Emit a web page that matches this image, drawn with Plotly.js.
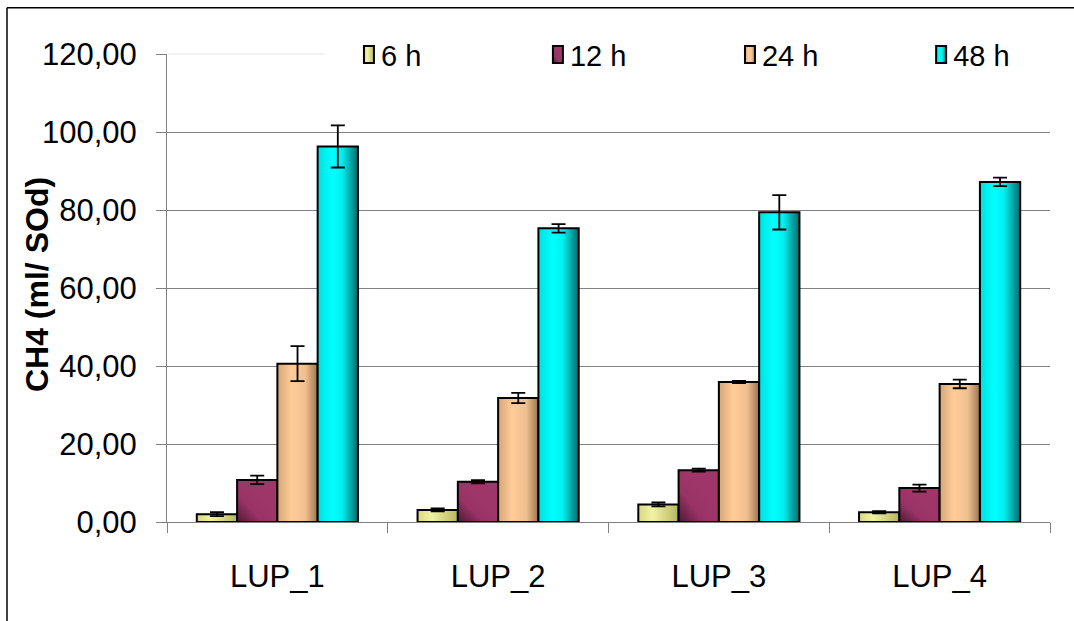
<!DOCTYPE html>
<html>
<head>
<meta charset="utf-8">
<script src="https://cdn.plot.ly/plotly-3.0.1.min.js"></script>
<style>html,body{margin:0;padding:0;background:#fff;}#chart{width:1074px;height:621px;}</style>
</head>
<body>
<div id="chart"></div>
<script>
// Data
const categories = ['LUP_1', 'LUP_2', 'LUP_3', 'LUP_4'];
const seriesNames = ['6 h', '12 h', '24 h', '48 h'];
const h6  = [2.0, 3.1, 4.5, 2.5];
const e6  = [0.5, 0.4, 0.5, 0.3];
const h12 = [10.8, 10.3, 13.3, 8.7];
const e12 = [1.1, 0.4, 0.4, 0.9];
const h24 = [40.6, 31.8, 35.9, 35.4];
const e24 = [4.5, 1.3, 0.3, 1.1];
const h48 = [96.3, 75.3, 79.4, 87.2];
const e48 = [5.4, 1.1, 4.4, 1.1];
const yTicks = [0, 20, 40, 60, 80, 100, 120];

const values = [h6, h12, h24, h48];
const errors = [e6, e12, e24, e48];
const colors = ['#e8e88c', '#993366', '#ffcc99', '#00ffff'];
const legendIds = ['legend', 'legend2', 'legend3', 'legend4'];
const legendX = [0.197, 0.411, 0.6285, 0.845];

const traces = values.map((v, i) => ({
  type: 'bar',
  name: seriesNames[i],
  legend: legendIds[i],
  x: categories,
  y: v,
  marker: {color: colors[i], line: {color: '#000', width: 2}},
  error_y: {type: 'data', array: errors[i], visible: true, color: '#000', thickness: 1.8, width: 7}
}));

const font = 'Liberation Sans, Arial, sans-serif';
const layout = {
  width: 1074, height: 621,
  margin: {l: 167, r: 24, t: 54, b: 99},
  paper_bgcolor: '#fff', plot_bgcolor: '#fff',
  separators: ',.',
  barmode: 'group', bargap: 0.27, bargroupgap: 0,
  showlegend: true,
  xaxis: {type: 'category', showline: true, linecolor: '#808080', linewidth: 1,
    ticks: 'outside', tickson: 'boundaries', ticklen: 10, tickcolor: '#808080',
    tickfont: {family: font, size: 31, color: '#000'}, ticklabelstandoff: 27,
    showgrid: false, zeroline: false, fixedrange: true},
  yaxis: {range: [0, 120], tickvals: yTicks, tickformat: '.2f',
    showline: true, linecolor: '#808080', linewidth: 1,
    ticks: 'outside', ticklen: 10, tickcolor: '#808080',
    tickfont: {family: font, size: 31, color: '#000'}, ticklabelstandoff: 13,
    showgrid: true, gridcolor: '#808080', gridwidth: 1, zeroline: false, fixedrange: true},
  annotations: [{text: '<b>CH4 (ml/ SOd)</b>', textangle: -90, xref: 'paper', yref: 'paper',
    x: -0.148, y: 0.507, xanchor: 'center', yanchor: 'middle', showarrow: false,
    font: {family: font, size: 32, color: '#000'}}],
  shapes: [
    {type: 'line', xref: 'paper', yref: 'paper', x0: 0.002, x1: 1, y0: 1, y1: 1, layer: 'between', line: {color: '#ffffff', width: 2}},
    {type: 'line', xref: 'paper', yref: 'paper', x0: 0.002, x1: 0.179, y0: 1, y1: 1, layer: 'between', line: {color: '#e6e6e6', width: 1}},
    {type: 'line', xref: 'paper', yref: 'paper', x0: -0.1812, x1: -0.1812, y0: 1.099, y1: -0.5, line: {color: '#000', width: 1.5}},
    {type: 'line', xref: 'paper', yref: 'paper', x0: -0.1812, x1: 1.2, y0: 1.099, y1: 1.099, line: {color: '#000', width: 1.5}}
  ]
};
legendIds.forEach((id, i) => {
  layout[id] = {orientation: 'h', x: legendX[i], y: 0.9985, xanchor: 'left', yanchor: 'middle',
    font: {family: font, size: 29, color: '#000'}, bgcolor: 'rgba(0,0,0,0)'};
});

Plotly.newPlot('chart', traces, layout, {displayModeBar: false, staticPlot: true}).then(gd => {
  const NS = 'http://www.w3.org/2000/svg';
  const svg = gd.querySelector('.main-svg');
  let defs = svg.querySelector('defs');
  if (!defs) { defs = document.createElementNS(NS, 'defs'); svg.insertBefore(defs, svg.firstChild); }
  const grads = [
    {x1: 0, y1: 0, x2: 1, y2: 0, stops: [[0, '#d8d882'], [0.35, '#f2f2a4'], [1, '#b5b560']]},
    {x1: 0, y1: 1, x2: 0.6, y2: 0.4, stops: [[0, '#4e1a35'], [0.55, '#993366'], [1, '#9e3669']]},
    {x1: 0, y1: 0, x2: 1, y2: 0, stops: [[0, '#d6a676'], [0.35, '#ffcc99'], [0.7, '#f0bf8e'], [1, '#9a744e']]},
    {x1: 0, y1: 0, x2: 1, y2: 0, stops: [[0, '#00e0e0'], [0.35, '#00ffff'], [0.6, '#00f0f0'], [1, '#006a6a']]}
  ];
  grads.forEach((g, i) => {
    const lg = document.createElementNS(NS, 'linearGradient');
    lg.setAttribute('id', 'bargrad' + i);
    ['x1', 'y1', 'x2', 'y2'].forEach(k => lg.setAttribute(k, g[k]));
    g.stops.forEach(s => {
      const st = document.createElementNS(NS, 'stop');
      st.setAttribute('offset', s[0]);
      st.setAttribute('stop-color', s[1]);
      lg.appendChild(st);
    });
    defs.appendChild(lg);
  });
  gd.querySelectorAll('.barlayer .trace').forEach((t, i) => {
    t.querySelectorAll('.point path').forEach(p => { p.style.fill = 'url(#bargrad' + i + ')'; });
  });
  legendIds.forEach((id, i) => {
    gd.querySelectorAll('g.' + id + ' .legendpoints path').forEach(p => {
      p.style.fill = 'url(#bargrad' + i + ')';
      p.setAttribute('d', 'M13,8.5H3V-8.5H13Z');
    });
  });
});
</script>
</body>
</html>
